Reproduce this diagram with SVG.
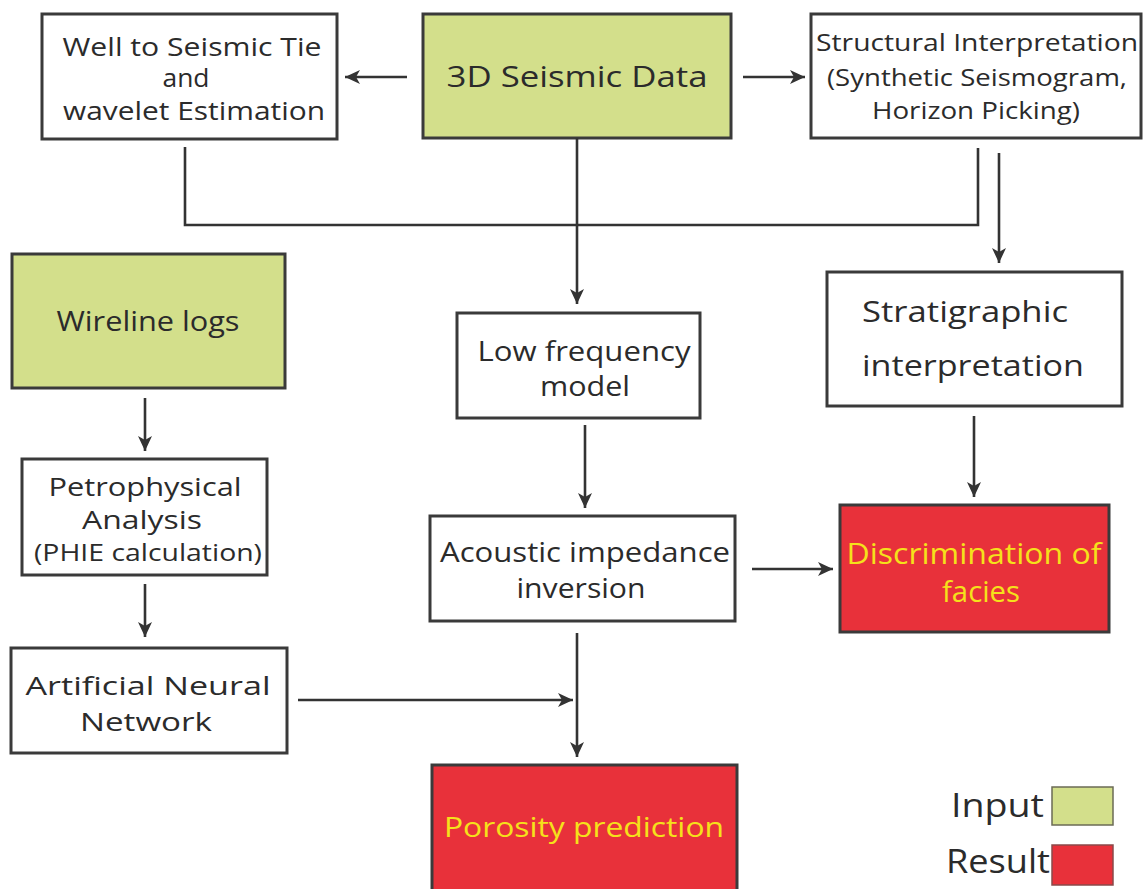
<svg xmlns="http://www.w3.org/2000/svg" width="1144" height="889" viewBox="0 0 1144 889">
<defs>
<marker id="ah" markerUnits="userSpaceOnUse" markerWidth="16" markerHeight="16" viewBox="0 0 16 16" refX="15" refY="8" orient="auto">
<path d="M0,1 L15,8 L0,15 L4,8 Z" fill="#333"/>
</marker>
</defs>
<style>
.box{fill:#fff;stroke:#3a3a3a;stroke-width:3}
.in{fill:#d3df8b;stroke:#3a3a3a;stroke-width:3}
.res{fill:#e8313a;stroke:#3a3a3a;stroke-width:3}
.t{font-family:"Open Sans","Noto Sans",sans-serif;fill:#2b2b2b;text-anchor:middle}
.y{fill:#f5e11b}
.c{fill:none;stroke:#333;stroke-width:2.6}
.a{fill:none;stroke:#333;stroke-width:2.6;marker-end:url(#ah)}
</style>
<rect width="1144" height="889" fill="#fff"/>

<g id="well-tie">
<rect class="box" x="42" y="14" width="295" height="125"/>
<text class="t" x="192" y="56" font-size="25" textLength="259" lengthAdjust="spacingAndGlyphs">Well to Seismic Tie</text>
<text class="t" x="186" y="87" font-size="25" textLength="47" lengthAdjust="spacingAndGlyphs">and</text>
<text class="t" x="194" y="120" font-size="25" textLength="262" lengthAdjust="spacingAndGlyphs">wavelet Estimation</text>
</g>

<g id="seismic-3d">
<rect class="in" x="423" y="14" width="308" height="124"/>
<text class="t" x="577" y="87" font-size="29" textLength="261" lengthAdjust="spacingAndGlyphs">3D Seismic Data</text>
</g>

<g id="structural">
<rect class="box" x="811" y="14" width="330" height="124"/>
<text class="t" x="977" y="51" font-size="23" textLength="322" lengthAdjust="spacingAndGlyphs">Structural Interpretation</text>
<text class="t" x="977" y="86" font-size="23" textLength="300" lengthAdjust="spacingAndGlyphs">(Synthetic Seismogram,</text>
<text class="t" x="976" y="119" font-size="23" textLength="208" lengthAdjust="spacingAndGlyphs">Horizon Picking)</text>
</g>

<g id="wireline">
<rect class="in" x="12" y="254" width="273" height="134"/>
<text class="t" x="148" y="331" font-size="27" textLength="183" lengthAdjust="spacingAndGlyphs">Wireline logs</text>
</g>

<g id="petrophysical">
<rect class="box" x="22" y="459" width="245" height="116"/>
<text class="t" x="145" y="496" font-size="26" textLength="193" lengthAdjust="spacingAndGlyphs">Petrophysical</text>
<text class="t" x="142" y="529" font-size="26" textLength="120" lengthAdjust="spacingAndGlyphs">Analysis</text>
<text class="t" x="148" y="561" font-size="23" textLength="228" lengthAdjust="spacingAndGlyphs">(PHIE calculation)</text>
</g>

<g id="ann">
<rect class="box" x="11" y="648" width="276" height="105"/>
<text class="t" x="148" y="695" font-size="26" textLength="245" lengthAdjust="spacingAndGlyphs">Artificial Neural</text>
<text class="t" x="146" y="731" font-size="26" textLength="132" lengthAdjust="spacingAndGlyphs">Network</text>
</g>

<g id="low-frequency">
<rect class="box" x="457" y="313" width="243" height="105"/>
<text class="t" x="584" y="361" font-size="27" textLength="213" lengthAdjust="spacingAndGlyphs">Low frequency</text>
<text class="t" x="585" y="396" font-size="27" textLength="90" lengthAdjust="spacingAndGlyphs">model</text>
</g>

<g id="acoustic">
<rect class="box" x="430" y="516" width="305" height="105"/>
<text class="t" x="585" y="562" font-size="27" textLength="290" lengthAdjust="spacingAndGlyphs">Acoustic impedance</text>
<text class="t" x="581" y="598" font-size="27" textLength="129" lengthAdjust="spacingAndGlyphs">inversion</text>
</g>

<g id="stratigraphic">
<rect class="box" x="827" y="272" width="295" height="134"/>
<text class="t" x="965" y="322" font-size="30" textLength="206" lengthAdjust="spacingAndGlyphs">Stratigraphic</text>
<text class="t" x="973" y="376" font-size="30" textLength="222" lengthAdjust="spacingAndGlyphs">interpretation</text>
</g>

<g id="discrimination">
<rect class="res" x="840" y="505" width="269" height="127"/>
<text class="t y" x="974" y="564" font-size="29" textLength="255" lengthAdjust="spacingAndGlyphs">Discrimination of</text>
<text class="t y" x="981" y="602" font-size="29" textLength="78" lengthAdjust="spacingAndGlyphs">facies</text>
</g>

<g id="porosity">
<rect class="res" x="432" y="765" width="305" height="130"/>
<text class="t y" x="584" y="837" font-size="28" textLength="280" lengthAdjust="spacingAndGlyphs">Porosity prediction</text>
</g>

<g id="legend">
<text class="t" x="1044" y="817" font-size="32" text-anchor="end" style="text-anchor:end" textLength="93" lengthAdjust="spacingAndGlyphs">Input</text>
<rect x="1052" y="787" width="61" height="38" fill="#d3df8b" stroke="#6b6b55" stroke-width="1.5"/>
<text class="t" x="1050" y="873" font-size="32" style="text-anchor:end" textLength="104" lengthAdjust="spacingAndGlyphs">Result</text>
<rect x="1052" y="845" width="61" height="40" fill="#e8313a" stroke="#8a4a4a" stroke-width="1.5"/>
</g>

<g id="connectors">
<path class="a" d="M407,77 L345,77"/>
<path class="a" d="M743,77 L805,77"/>
<path class="c" d="M185,147 L185,225 L978,225 L978,148"/>
<path class="a" d="M577,138 L577,304"/>
<path class="a" d="M999,153 L999,263"/>
<path class="a" d="M145,398 L145,451"/>
<path class="a" d="M145,584 L145,637"/>
<path class="a" d="M585,425 L585,508"/>
<path class="a" d="M974,416 L974,497"/>
<path class="a" d="M752,569 L833,569"/>
<path class="a" d="M298,700 L573,700"/>
<path class="a" d="M577,633 L577,757"/>
</g>
</svg>
